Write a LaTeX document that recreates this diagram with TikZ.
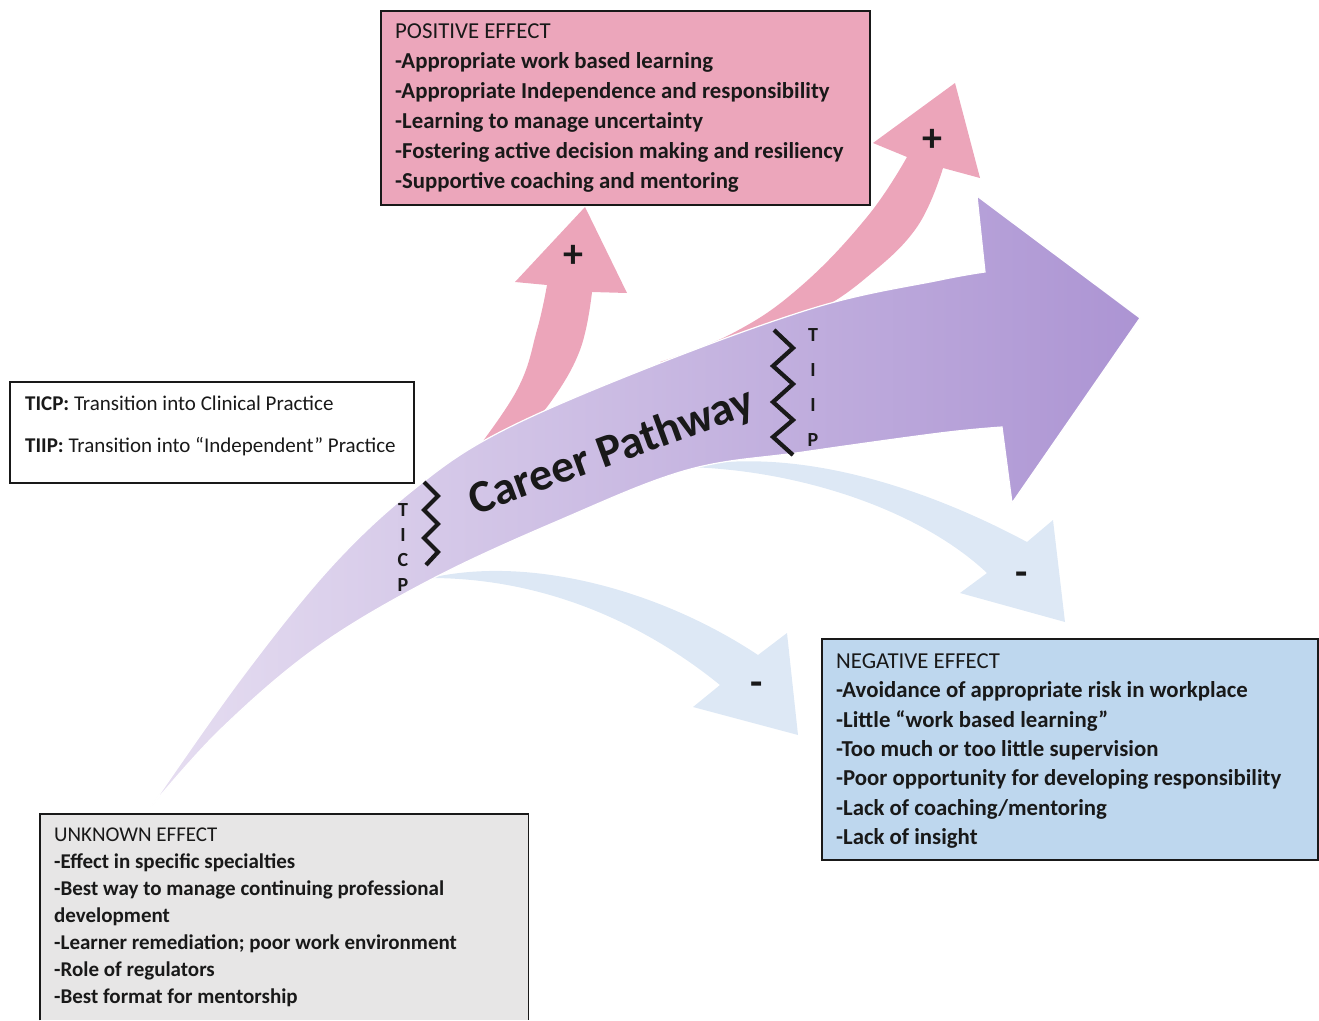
\documentclass[tikz,border=0pt]{standalone}
\usepackage{fontspec}
\setmainfont{Carlito}
\definecolor{posfill}{RGB}{236,166,187}
\definecolor{pinkA}{RGB}{236,165,186}
\definecolor{negfill}{RGB}{190,215,238}
\definecolor{unkfill}{RGB}{231,230,230}
\definecolor{blueA}{RGB}{221,232,245}
\definecolor{mainL}{RGB}{230,222,241}
\definecolor{mainR}{RGB}{172,148,211}
\definecolor{ink}{RGB}{25,25,25}
\begin{document}
\begin{tikzpicture}[x=1pt,y=-1pt,
  boxline/.style={draw=ink, line width=1.6pt},
  box/.style={boxline, inner sep=0pt, anchor=north west},
  txt/.style={anchor=north west, inner sep=0pt, align=left, text=ink},
  sign/.style={font=\fontsize{40}{40}\selectfont\bfseries, inner sep=0pt, text=ink},
  letter/.style={font=\fontsize{20}{20}\selectfont\bfseries, inner sep=0pt, text=ink},
  zig/.style={line width=4.2pt, line join=miter, ink}
]
\useasboundingbox (0,0) rectangle (1319,1020);

% negative (blue) arrows
\fill[blueA] (687,467) .. controls (800,445) and (930,490) .. (1027,542)
  -- (1053,520) -- (1065,622) -- (960,593) -- (987,573)
  .. controls (920,510) and (800,470) .. (687,467) -- cycle;
\fill[blueA] (430,578) .. controls (530,555) and (660,590) .. (758,655)
  -- (787,633) -- (798,735) -- (693,707) -- (720,685)
  .. controls (640,620) and (540,578) .. (430,578) -- cycle;

% positive (pink) arrows
\fill[pinkA] plot[smooth, tension=0.7] coordinates {(470,458) (517,390) (537,330) (547,285)}
  -- (515,282) -- (585,207) -- (627,293) -- (592,292)
  -- plot[smooth, tension=0.7] coordinates {(592,292) (580,350) (550,403) (525,428)} -- cycle;
\fill[pinkA] plot[smooth, tension=0.7] coordinates {(660,362) (733,333) (800,287) (867,217) (907,157)}
  -- (873,143) -- (955,83) -- (980,178) -- (943,168)
  -- plot[smooth, tension=0.7] coordinates {(943,168) (917,227) (867,277) (817,311) (767,331) (660,364)} -- cycle;

% main career pathway arrow
\shade[left color=mainL, right color=mainR, draw=white, line width=1.2pt]
  plot[smooth, tension=0.6] coordinates {(150,808) (240,680) (330,568) (413,490) (500,432) (650,367) (817,307) (940,280) (985,272)}
  -- (977,196) -- (1140,318) -- (1012,503) -- (1002,427)
  -- plot[smooth, tension=0.6] coordinates {(1002,427) (940,433) (803,452) (687,470) (560,520) (430,580) (316,648) (220,730) (150,808)} -- cycle;

\node[font=\fontsize{46}{46}\selectfont\bfseries, text=ink, rotate=20, inner sep=0pt] (cp) at (612,452) {Career Pathway};

% transition markers
\draw[zig] (424,482) -- (438,496) -- (424,510) -- (438,524) -- (424,538) -- (438,552) -- (426,565);
\node[letter] (t1) at (403,510) {T};
\node[letter] (t2) at (403,535) {I};
\node[letter] (t3) at (403,560) {C};
\node[letter] (t4) at (403,585) {P};
\draw[zig] (774,330) -- (793,348) -- (773,366) -- (793,384) -- (773,402) -- (793,420) -- (773,437) -- (793,455);
\node[letter] (s1) at (813,335) {T};
\node[letter] (s2) at (813,370) {I};
\node[letter] (s3) at (813,405) {I};
\node[letter] (s4) at (813,440) {P};

% signs
\node[sign] (plus1) at (573,256) {+};
\node[sign] (plus2) at (932,140) {+};
\node[sign] (minus1) at (757,689) {-};
\node[sign] (minus2) at (1022,579) {-};

% positive box
\node[box, fill=posfill, minimum width=489pt, minimum height=194pt] (pos) at (380,10) {};
\node[txt, font=\fontsize{22.8}{30}\selectfont] (postxt) at ([shift={(15,13.6)}]pos.north west)
  {POSITIVE EFFECT\\
   \textbf{-Appropriate work based learning}\\
   \textbf{-Appropriate Independence and responsibility}\\
   \textbf{-Learning to manage uncertainty}\\
   \textbf{-Fostering active decision making and resiliency}\\
   \textbf{-Supportive coaching and mentoring}};

% legend box
\node[box, fill=white, minimum width=404pt, minimum height=101pt] (leg) at (9,381) {};
\node[txt, font=\fontsize{21}{42}\selectfont] (legtxt) at ([shift={(16,15)}]leg.north west)
  {\textbf{TICP:} Transition into Clinical Practice\\
   \textbf{TIIP:} Transition into “Independent” Practice};

% negative box
\node[box, fill=negfill, minimum width=496pt, minimum height=221pt] (neg) at (821,638) {};
\node[txt, font=\fontsize{22.8}{29.3}\selectfont] (negtxt) at ([shift={(15,15.6)}]neg.north west)
  {NEGATIVE EFFECT\\
   \textbf{-Avoidance of appropriate risk in workplace}\\
   \textbf{-Little “work based learning”}\\
   \textbf{-Too much or too little supervision}\\
   \textbf{-Poor opportunity for developing responsibility}\\
   \textbf{-Lack of coaching/mentoring}\\
   \textbf{-Lack of insight}};

% unknown box (cut off at the bottom)
\node[fill=unkfill, inner sep=0pt, anchor=north west, minimum width=488pt, minimum height=206pt] (unk) at (40,814) {};
\draw[boxline] (unk.south west) -- (unk.north west) -- (unk.north east) -- (unk.south east);
\node[txt, font=\fontsize{21}{27}\selectfont] (unktxt) at ([shift={(14,14)}]unk.north west)
  {UNKNOWN EFFECT\\
   \textbf{-Effect in specific specialties}\\
   \textbf{-Best way to manage continuing professional}\\
   \textbf{development}\\
   \textbf{-Learner remediation; poor work environment}\\
   \textbf{-Role of regulators}\\
   \textbf{-Best format for mentorship}};
\end{tikzpicture}
\end{document}
